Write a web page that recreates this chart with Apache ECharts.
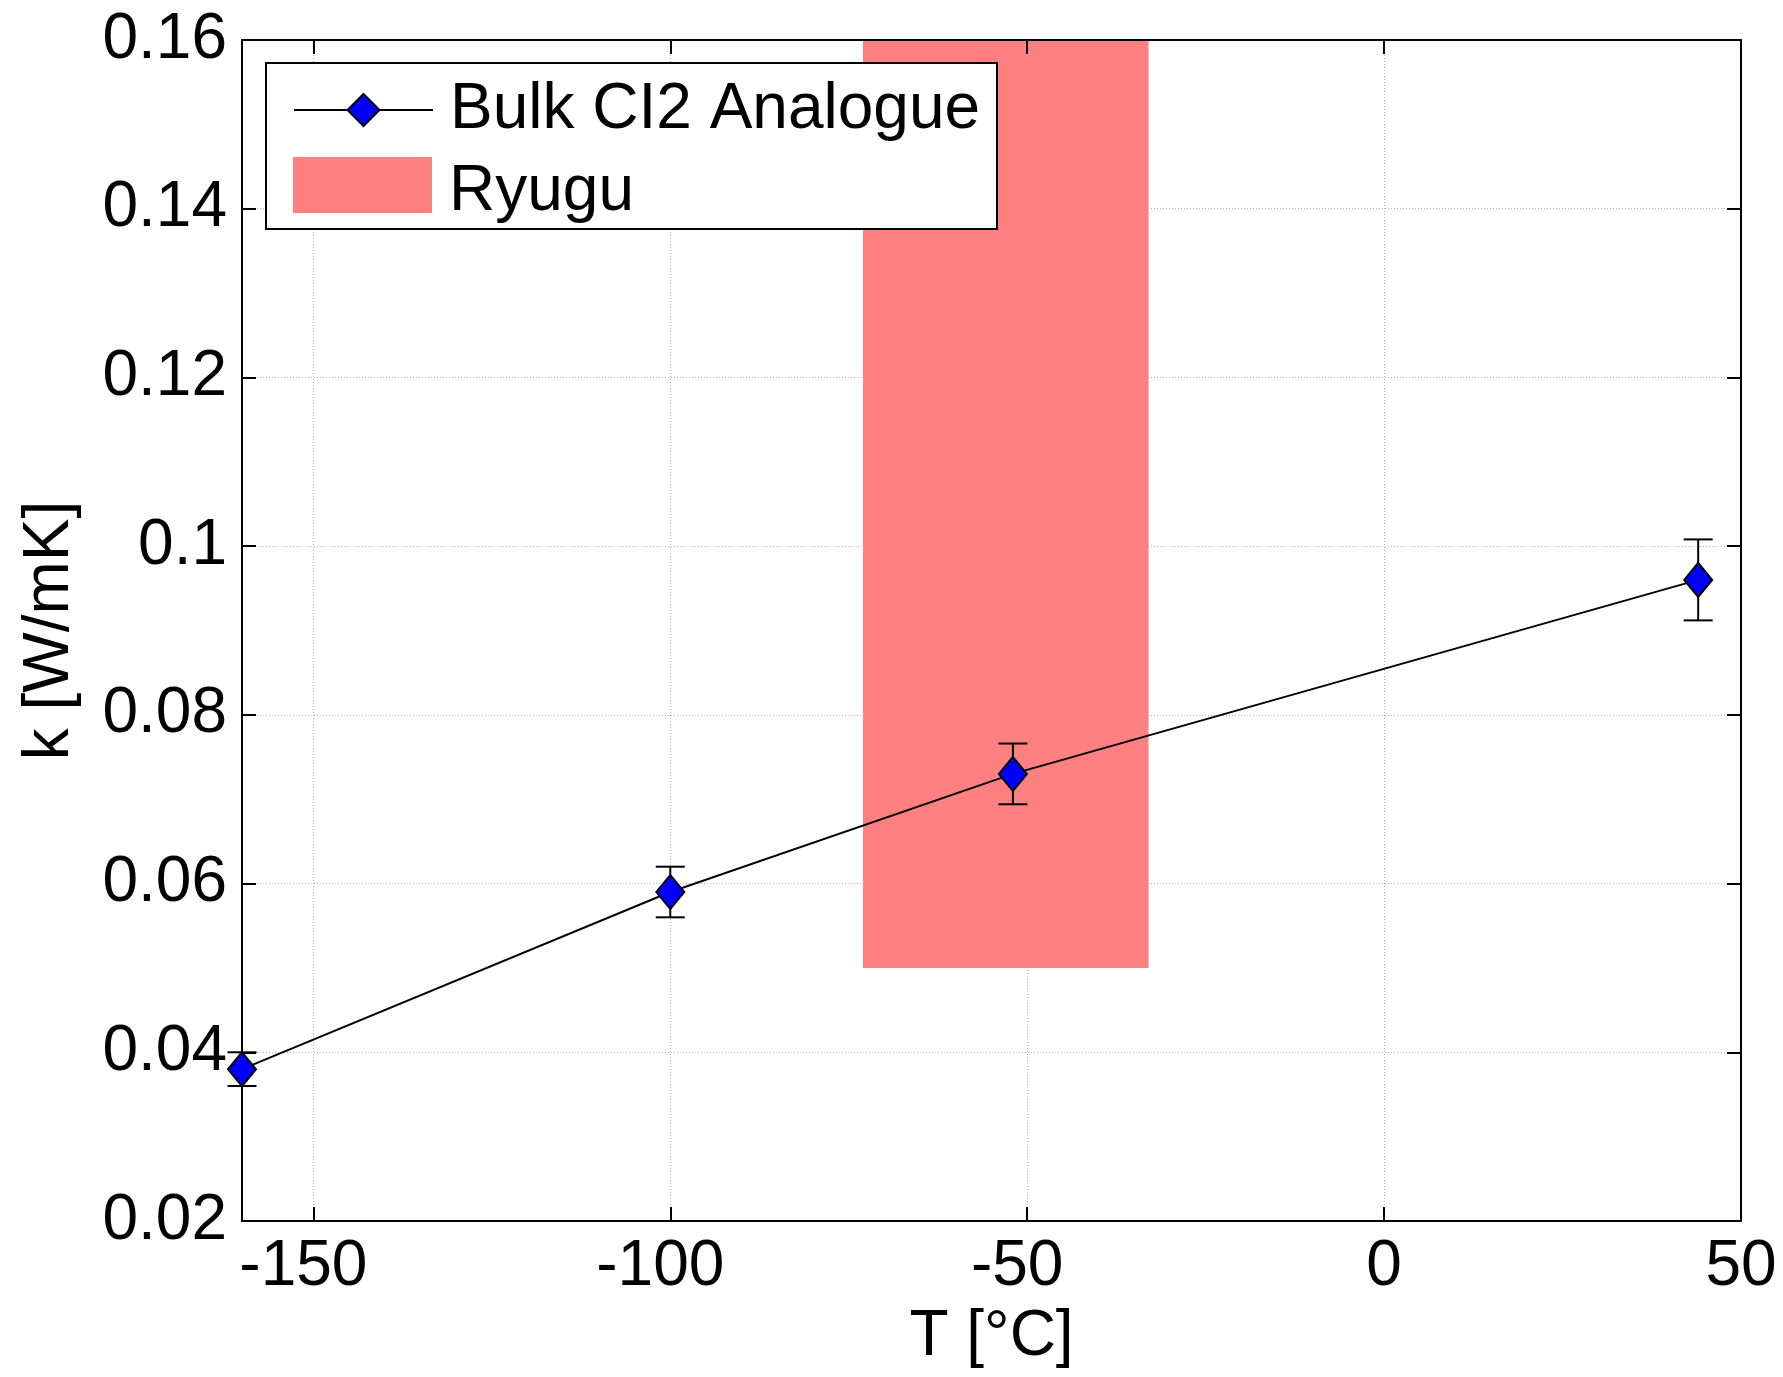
<!DOCTYPE html>
<html>
<head>
<meta charset="utf-8">
<title>Thermal conductivity vs temperature</title>
<script src="https://cdn.jsdelivr.net/npm/echarts@6/dist/echarts.min.js"></script>
<style>
  html, body { margin: 0; padding: 0; background: #fff; }
  #chart { width: 1783px; height: 1377px; }
</style>
</head>
<body>
<div id="chart"></div>
<script>
// Measured thermal conductivity of the bulk CI2 analogue
const temperatureC = [-160, -100, -52, 44];
const conductivity = [0.038, 0.059, 0.073, 0.096];
const conductivityErr = [0.002, 0.003, 0.0036, 0.0048];

// Ryugu range: temperature span and conductivity span
const ryuguT = [-73, -33];
const ryuguK = [0.05, 0.16];

// Axis ticks
const xTickValues = [-150, -100, -50, 0, 50];
const yTickLabels = ['0.02', '0.04', '0.06', '0.08', '0.1', '0.12', '0.14', '0.16'];

const FONT = "'Liberation Sans', Arial, Helvetica, sans-serif";
const FS = 64;

const chart = echarts.init(document.getElementById('chart'), null, { renderer: 'canvas' });

const gridRect = { left: 242, top: 40, right: 42, bottom: 156 };

const axisLineStyle = { color: '#000', width: 2 };
const tickText = { fontFamily: FONT, fontSize: FS, color: '#000' };

const option = {
  backgroundColor: '#fff',
  animation: false,
  grid: Object.assign({ containLabel: false }, gridRect),
  xAxis: [
    {
      type: 'value',
      min: -160,
      max: 50,
      minInterval: 50,
      maxInterval: 50,
      name: 'T [°C]',
      nameLocation: 'middle',
      nameGap: 84,
      nameTextStyle: { fontFamily: FONT, fontSize: FS, color: '#000' },
      axisLine: { show: true, onZero: false, lineStyle: axisLineStyle },
      axisTick: { show: true, inside: true, length: 14, lineStyle: axisLineStyle },
      axisLabel: Object.assign({}, tickText, {
        margin: 14,
        formatter: v => {
          const r = Math.round(v);
          if (xTickValues.indexOf(r) < 0) return '';
          // negative labels sit with the sign hanging to the left
          return r < 0 ? '{neg|' + r + '}' : '{pos|' + r + '}';
        },
        rich: {
          neg: Object.assign({}, tickText, { padding: [0, 20, 0, 0] }),
          pos: Object.assign({}, tickText)
        }
      }),
      splitLine: { show: true, lineStyle: { color: '#b4b4b4', width: 1, type: [1, 2] } }
    },
    {
      type: 'value',
      position: 'top',
      min: -160,
      max: 50,
      minInterval: 50,
      maxInterval: 50,
      axisLine: { show: true, onZero: false, lineStyle: axisLineStyle },
      axisTick: { show: true, inside: true, length: 14, lineStyle: axisLineStyle },
      axisLabel: { show: false },
      splitLine: { show: false },
      z: 8
    }
  ],
  yAxis: [
    {
      type: 'value',
      min: 0.02,
      max: 0.16,
      interval: 0.02,
      name: 'k [W/mK]',
      nameLocation: 'middle',
      nameGap: 160,
      nameRotate: 90,
      nameTextStyle: { fontFamily: FONT, fontSize: FS, color: '#000' },
      axisLine: { show: true, onZero: false, lineStyle: axisLineStyle },
      axisTick: { show: true, inside: true, length: 14, lineStyle: axisLineStyle },
      axisLabel: Object.assign({}, tickText, {
        margin: 15,
        formatter: v => {
          const i = Math.round((v - 0.02) / 0.02);
          return yTickLabels[i] !== undefined ? yTickLabels[i] : '';
        }
      }),
      splitLine: { show: true, lineStyle: { color: '#b4b4b4', width: 1, type: [1, 2] } }
    },
    {
      type: 'value',
      position: 'right',
      min: 0.02,
      max: 0.16,
      interval: 0.02,
      axisLine: { show: true, onZero: false, lineStyle: axisLineStyle },
      axisTick: { show: true, inside: true, length: 14, lineStyle: axisLineStyle },
      axisLabel: { show: false },
      splitLine: { show: false }
    }
  ],
  // Legend frame
  graphic: [
    {
      type: 'rect',
      left: 265,
      top: 62,
      shape: { width: 731, height: 166 },
      style: { fill: '#fff', stroke: '#000', lineWidth: 2 },
      z: 20
    }
  ],
  legend: [
    {
      data: ['Bulk CI2 Analogue'],
      left: 293,
      top: 78,
      padding: 0,
      itemWidth: 139,
      itemHeight: 40,
      textStyle: { fontFamily: FONT, fontSize: FS, color: '#000', padding: [0, 0, 0, 12] },
      z: 30
    },
    {
      data: [{ name: 'Ryugu', icon: 'rect' }],
      left: 293,
      top: 157,
      padding: 0,
      itemWidth: 139,
      itemHeight: 56,
      formatter: '{r|{name}}',
      textStyle: {
        fontFamily: FONT, fontSize: FS, color: '#000',
        rich: { r: { fontFamily: FONT, fontSize: FS, color: '#000', padding: [14, 0, 0, 12] } }
      },
      z: 30
    }
  ],
  series: [
    {
      name: 'Ryugu',
      type: 'custom',
      z: 1,
      itemStyle: { color: '#ff8080' },
      encode: { x: [0, 1], y: [2, 3] },
      data: [[ryuguT[0], ryuguT[1], ryuguK[0], ryuguK[1]]],
      renderItem: function (params, api) {
        const p0 = api.coord([api.value(0), api.value(3)]);
        const p1 = api.coord([api.value(1), api.value(2)]);
        return {
          type: 'rect',
          shape: { x: p0[0], y: p0[1], width: p1[0] - p0[0], height: p1[1] - p0[1] },
          style: { fill: api.visual('color') }
        };
      }
    },
    {
      name: 'errorbars',
      type: 'custom',
      z: 3,
      silent: true,
      encode: { x: 0, y: [1, 2] },
      data: temperatureC.map((t, i) => [t, conductivity[i] - conductivityErr[i], conductivity[i] + conductivityErr[i]]),
      renderItem: function (params, api) {
        const lo = api.coord([api.value(0), api.value(1)]);
        const hi = api.coord([api.value(0), api.value(2)]);
        const half = 14.5;
        const st = { stroke: '#000', lineWidth: 2 };
        return {
          type: 'group',
          children: [
            { type: 'line', shape: { x1: hi[0], y1: hi[1], x2: lo[0], y2: lo[1] }, style: st },
            { type: 'line', shape: { x1: hi[0] - half, y1: hi[1], x2: hi[0] + half, y2: hi[1] }, style: st },
            { type: 'line', shape: { x1: lo[0] - half, y1: lo[1], x2: lo[0] + half, y2: lo[1] }, style: st }
          ]
        };
      }
    },
    {
      name: 'Bulk CI2 Analogue',
      type: 'line',
      z: 4,
      clip: false,
      data: temperatureC.map((t, i) => [t, conductivity[i]]),
      symbol: 'diamond',
      symbolSize: [28, 34],
      showAllSymbol: true,
      lineStyle: { color: '#000', width: 2 },
      itemStyle: { color: '#0000ff', borderColor: '#000', borderWidth: 2 }
    }
  ]
};

chart.setOption(option);
</script>
</body>
</html>
